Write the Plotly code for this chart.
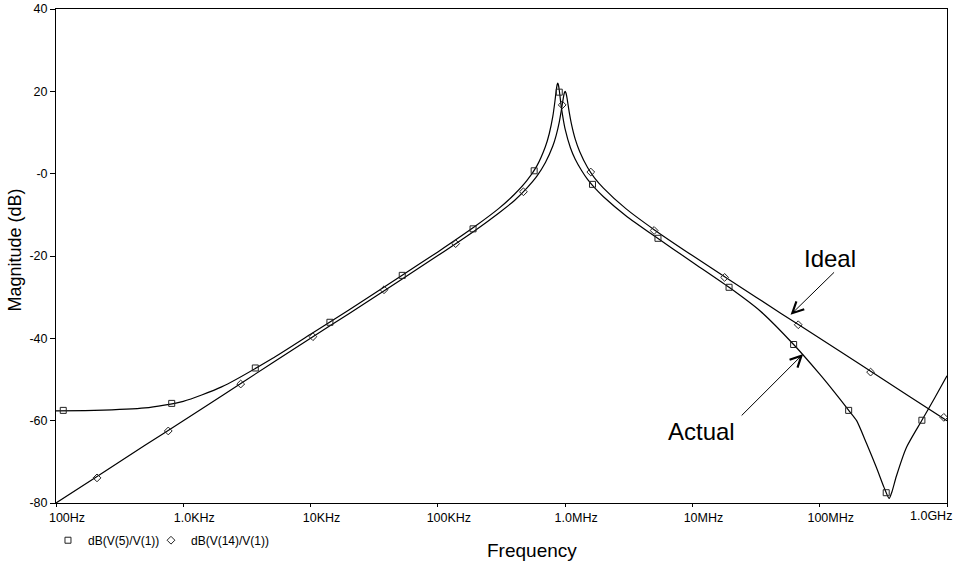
import plotly.graph_objects as go

# ---------------- data ----------------
freq_ideal = [100, 200, 500, 1e3, 2e3, 5e3, 1e4, 2e4, 5e4, 1e5, 2e5, 3e5, 4e5, 5e5,
              6e5, 7e5, 8e5, 8.5e5, 9e5, 9.3e5, 9.5e5, 9.7e5, 9.85e5, 1.0e6, 1.015e6,
              1.03e6, 1.05e6, 1.08e6, 1.12e6, 1.2e6, 1.3e6, 1.5e6, 1.7e6, 2e6, 3e6,
              5e6, 1e7, 2e7, 5e7, 1e8, 2e8, 5e8, 1e9]
db_ideal = [-80.0, -74.0, -66.0, -60.0, -54.0, -46.0, -40.0, -34.0, -26.0, -19.9,
            -13.6, -9.6, -6.5, -3.5, -0.6, 2.7, 6.7, 9.3, 12.6, 15.1, 16.9, 18.6,
            19.6, 20.0, 19.6, 18.7, 17.1, 14.7, 12.1, 8.4, 5.4, 1.5, -1.0, -3.5,
            -8.5, -13.6, -19.9, -26.0, -34.0, -40.0, -46.0, -54.0, -60.0]

freq_actual = [100, 200, 500, 1e3, 2e3, 5e3, 1e4, 2e4, 5e4, 1e5, 2e5, 3e5, 4e5, 5e5,
               6e5, 7e5, 7.5e5, 8e5, 8.3e5, 8.5e5, 8.65e5, 8.75e5, 8.85e5, 9e5,
               9.2e5, 9.5e5, 1e6, 1.1e6, 1.2e6, 1.35e6, 1.5e6, 1.7e6, 2e6, 3e6, 5e6,
               1e7, 1.94e7, 3.39e7, 6.24e7, 1e8, 1.3e8, 1.69e8, 1.95e8, 2.33e8,
               2.8e8, 3.2e8, 3.51e8, 3.7e8, 4e8, 4.8e8, 6.35e8, 8e8, 1e9]
db_actual = [-57.6, -57.5, -56.9, -55.3, -51.8, -44.9, -39.0, -33.1, -25.1, -19.0,
             -12.6, -8.5, -5.0, -1.7, 1.9, 6.6, 9.7, 13.9, 17.4, 20.1, 21.6, 22.0,
             21.6, 20.2, 17.7, 14.6, 10.8, 6.3, 3.5, 0.7, -1.4, -3.4, -5.6, -10.2,
             -15.1, -21.5, -27.6, -33.3, -41.5, -48.7, -53.0, -57.5, -60.0, -65.5,
             -71.5, -76.2, -78.9, -77.2, -73.5, -66.5, -59.9, -54.5, -49.1]

# marker positions
mk_freq_ideal = [210, 762, 2826, 10440, 37760, 138000, 470000, 948000, 1.59e6,
                 5.0e6, 1.79e7, 6.78e7, 2.51e8, 9.44e8]
mk_db_ideal = [-73.9, -62.5, -51.1, -39.6, -28.2, -17.0, -4.4, 16.7, 0.4, -13.8,
               -25.2, -36.7, -48.2, -59.2]
mk_freq_actual = [114, 811, 3680, 14190, 52500, 189000, 571000, 899000, 1.64e6,
                  5.36e6, 1.94e7, 6.24e7, 1.688e8, 3.33e8, 6.35e8]
mk_db_actual = [-57.5, -55.8, -47.2, -36.1, -24.7, -13.4, 0.7, 19.8, -2.6, -15.7,
                -27.6, -41.5, -57.5, -77.5, -59.9]

series_names = ["dB(V(5)/V(1))", "dB(V(14)/V(1))"]

x_tickvals = [1e2, 1e3, 1e4, 1e5, 1e6, 1e7, 1e8, 1e9]
x_ticktext = ["100Hz", "1.0KHz", "10KHz", "100KHz", "1.0MHz", "10MHz", "100MHz", ""]
last_tick_label = "1.0GHz"
y_tickvals = [-80, -60, -40, -20, 0, 20, 40]
y_ticktext = ["-80", "-60", "-40", "-20", "-0", "20", "40"]

FONT = "Liberation Sans, Arial, sans-serif"

fig = go.Figure()

fig.add_trace(go.Scatter(x=freq_actual, y=db_actual, mode="lines",
                         line=dict(color="black", width=1.2, shape="spline", smoothing=0.6),
                         showlegend=False, hoverinfo="skip"))
fig.add_trace(go.Scatter(x=freq_ideal, y=db_ideal, mode="lines",
                         line=dict(color="black", width=1.2, shape="spline", smoothing=0.6),
                         showlegend=False, hoverinfo="skip"))
fig.add_trace(go.Scatter(x=mk_freq_actual, y=mk_db_actual, mode="markers",
                         name=series_names[0], legend="legend",
                         marker=dict(symbol="square-open", size=6, color="#222",
                                     line=dict(width=1))))
fig.add_trace(go.Scatter(x=mk_freq_ideal, y=mk_db_ideal, mode="markers",
                         name=series_names[1], legend="legend2",
                         marker=dict(symbol="diamond-open", size=6, color="#222",
                                     line=dict(width=1))))

leg_common = dict(orientation="h", xanchor="left", yanchor="top",
                  font=dict(size=12, family=FONT), bgcolor="rgba(0,0,0,0)")

fig.update_layout(
    width=959, height=567,
    margin=dict(l=56, r=12, t=9, b=64, autoexpand=False),
    paper_bgcolor="white", plot_bgcolor="white",
    font=dict(family=FONT, color="black", size=12),
    showlegend=True,
    legend=dict(x=-0.009, y=-0.046, **leg_common),
    legend2=dict(x=0.1066, y=-0.046, **leg_common),
    xaxis=dict(type="log", range=[2, 9], tickmode="array", tickvals=x_tickvals,
               ticktext=x_ticktext, ticks="outside", ticklen=3, tickcolor="black",
               showline=True, linecolor="black", linewidth=1, mirror=True,
               showgrid=False, zeroline=False, ticklabelshift=11, automargin=False,
               tickfont=dict(size=12.5, family=FONT)),
    yaxis=dict(range=[-80, 40], tickmode="array", tickvals=y_tickvals,
               ticktext=y_ticktext, ticks="outside", ticklen=5, tickcolor="black",
               showline=True, linecolor="black", linewidth=1, mirror=True,
               showgrid=False, zeroline=False, automargin=False,
               tickfont=dict(size=12.5, family=FONT)),
)

# last x tick label, pulled inside the page as in the reference
fig.add_annotation(text=last_tick_label, xref="paper", yref="paper", x=0.982, y=-0.0263,
                   xanchor="center", yanchor="middle", showarrow=False,
                   font=dict(size=12.5, family=FONT))

# axis titles
fig.add_annotation(text="Frequency", xref="paper", yref="paper", x=0.534, y=-0.097,
                   xanchor="center", yanchor="middle",
                   showarrow=False, font=dict(size=19, family=FONT))
fig.add_annotation(text="Magnitude (dB)", xref="paper", yref="paper", x=-0.0455, y=0.512,
                   xanchor="center", yanchor="middle",
                   textangle=-90, showarrow=False, font=dict(size=18, family=FONT))

# labels with arrows
fig.add_annotation(x=7.771, y=-34.3, xref="x", yref="y", text="", showarrow=True,
                   ax=45, ay=-44, arrowhead=5, arrowsize=2.2, arrowwidth=1,
                   arrowcolor="black", standoff=0, startstandoff=0)
fig.add_annotation(x=7.870, y=-43.8, xref="x", yref="y", text="", showarrow=True,
                   ax=-63, ay=63, arrowhead=5, arrowsize=2.2, arrowwidth=1,
                   arrowcolor="black", standoff=0, startstandoff=0)
fig.add_annotation(x=8.084, y=-20.6, xref="x", yref="y", text="Ideal", showarrow=False,
                   font=dict(size=24, family=FONT))
fig.add_annotation(x=7.075, y=-62.6, xref="x", yref="y", text="Actual", showarrow=False,
                   font=dict(size=24, family=FONT))

fig.write_html("out.html")
